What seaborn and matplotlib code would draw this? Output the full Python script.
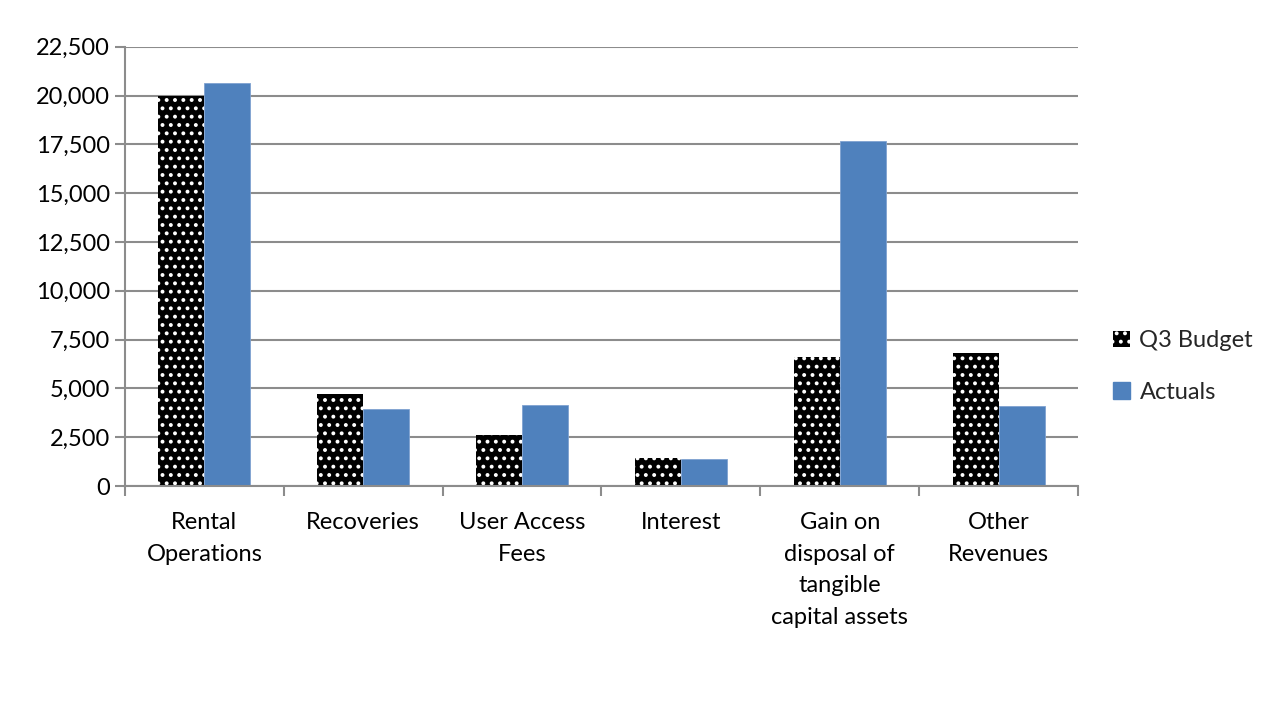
import matplotlib
matplotlib.use("Agg")
import matplotlib.pyplot as plt
from matplotlib.patches import Patch
import seaborn as sns
import pandas as pd

categories = ["Rental\nOperations", "Recoveries", "User Access\nFees", "Interest",
              "Gain on\ndisposal of\ntangible\ncapital assets", "Other\nRevenues"]
budget = [20000, 4700, 2600, 1430, 6600, 6830]
actuals = [20640, 3950, 4130, 1400, 17650, 4100]
series = ["Q3 Budget", "Actuals"]
yticks = [0, 2500, 5000, 7500, 10000, 12500, 15000, 17500, 20000, 22500]

df = pd.DataFrame({
    "category": categories * 2,
    "series": [series[0]] * len(categories) + [series[1]] * len(categories),
    "value": budget + actuals,
})

sns.set_theme(style="white")
plt.rcParams["font.family"] = ["Lato", "DejaVu Sans"]
plt.rcParams["hatch.linewidth"] = 1.6

fig = plt.figure(figsize=(12.88, 7.09), dpi=100)
fig.patch.set_facecolor("white")
ax = fig.add_axes([0.097, 0.3145, 0.74, 0.6195])

blue = "#4F81BD"
sns.barplot(data=df, x="category", y="value", hue="series", hue_order=series,
            order=categories, palette={"Q3 Budget": "black", "Actuals": blue},
            width=0.58, gap=0, ax=ax, legend=False, saturation=1)

for cont, name in zip(ax.containers, series):
    for p in cont:
        if name == "Q3 Budget":
            p.set_facecolor("black")
            p.set_hatch("..")
            p.set_edgecolor("white")
            p.set_linewidth(0)
        else:
            p.set_edgecolor("#7FA2D1")
            p.set_linewidth(0.6)

FS = 17
ax.set_ylim(0, 22500)
ax.set_xlim(-0.5, len(categories) - 0.5)
ax.set_yticks(yticks)
ax.set_yticklabels([f"{v:,}" for v in yticks], fontsize=FS)
ax.set_xticks(range(len(categories)))
ax.set_xticklabels(categories, fontsize=FS, linespacing=1.62, va="top")
ax.set_xlabel("")
ax.set_ylabel("")

ax.yaxis.grid(True, color="#8c8c8c", linewidth=1.5)
ax.set_axisbelow(True)
for s in ["top", "right"]:
    ax.spines[s].set_visible(False)
for s in ["left", "bottom"]:
    ax.spines[s].set_color("#8c8c8c")
    ax.spines[s].set_linewidth(1.5)

ax.tick_params(axis="y", which="major", length=7, width=1.5, color="#8c8c8c",
               direction="out", left=True, pad=4, labelcolor="black")
ax.tick_params(axis="x", which="major", length=0, pad=19, labelcolor="black")
ax.set_xticks([i - 0.5 for i in range(len(categories) + 1)], minor=True)
ax.tick_params(axis="x", which="minor", length=7, width=1.5, color="#8c8c8c",
               direction="out", bottom=True)

handles = [Patch(facecolor="black", edgecolor="white", hatch="..", linewidth=0, label=series[0]),
           Patch(facecolor=blue, edgecolor=blue, label=series[1])]
fig.legend(handles=handles, loc="center left", bbox_to_anchor=(0.848, 0.483),
           frameon=False, fontsize=FS, handlelength=0.7, handleheight=0.7,
           handletextpad=0.4, labelspacing=1.3)

fig.savefig("out.png", dpi=100, facecolor="white")
